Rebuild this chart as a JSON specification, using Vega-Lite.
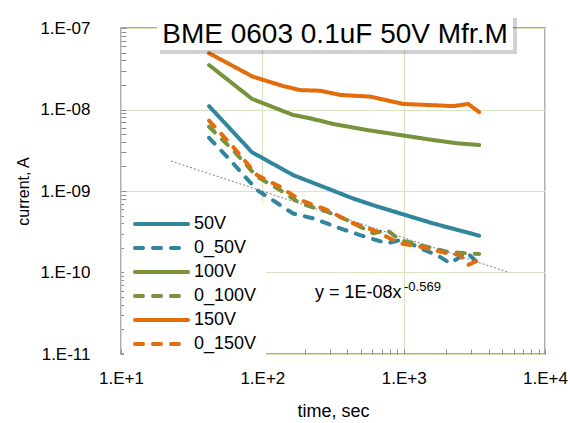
{
  "$schema": "https://vega.github.io/schema/vega-lite/v6.json",
  "width": 424,
  "height": 326,
  "autosize": "none",
  "padding": {"left": 121, "top": 28, "right": 25, "bottom": 69},
  "background": "white",
  "config": {
    "view": {"stroke": "#8c8c8c", "strokeWidth": 1.5},
    "font": "Liberation Sans",
    "axis": {
      "labelFont": "Liberation Sans",
      "titleFont": "Liberation Sans",
      "labelColor": "#000000",
      "titleColor": "#000000",
      "titleFontWeight": "normal",
      "labelOverlap": false,
      "labelFlush": false,
      "domain": false,
      "tickSize": -5,
      "tickColor": "#8c8c8c",
      "tickWidth": 1,
      "grid": true,
      "gridColor": "#d7e4bd",
      "gridWidth": 1.2,
      "gridOpacity": {"condition": {"test": "abs(log(datum.value)/LN10 - round(log(datum.value)/LN10)) < 0.01", "value": 1}, "value": 0}
    }
  },
  "datasets": {
    "series": [
      {"series": "50V", "t": 42, "i": 1.10e-8},
      {"series": "50V", "t": 84.5, "i": 2.99e-9},
      {"series": "50V", "t": 165, "i": 1.57e-9},
      {"series": "50V", "t": 287, "i": 1.08e-9},
      {"series": "50V", "t": 438, "i": 8.1e-10},
      {"series": "50V", "t": 607, "i": 6.7e-10},
      {"series": "50V", "t": 944, "i": 5.3e-10},
      {"series": "50V", "t": 1615, "i": 4.0e-10},
      {"series": "50V", "t": 3420, "i": 2.83e-10},
      {"series": "0_50V", "t": 42, "i": 4.5e-9},
      {"series": "0_50V", "t": 62, "i": 2.19e-9},
      {"series": "0_50V", "t": 91.6, "i": 1.03e-9},
      {"series": "0_50V", "t": 165, "i": 5.3e-10},
      {"series": "0_50V", "t": 228, "i": 4.62e-10},
      {"series": "0_50V", "t": 355, "i": 3.48e-10},
      {"series": "0_50V", "t": 491, "i": 2.88e-10},
      {"series": "0_50V", "t": 762, "i": 2.28e-10},
      {"series": "0_50V", "t": 990, "i": 2.55e-10},
      {"series": "0_50V", "t": 1306, "i": 1.98e-10},
      {"series": "0_50V", "t": 1722, "i": 1.64e-10},
      {"series": "0_50V", "t": 2128, "i": 1.30e-10},
      {"series": "0_50V", "t": 2810, "i": 1.75e-10},
      {"series": "0_50V", "t": 3420, "i": 1.27e-10},
      {"series": "100V", "t": 42, "i": 3.51e-8},
      {"series": "100V", "t": 84.5, "i": 1.35e-8},
      {"series": "100V", "t": 165, "i": 8.57e-9},
      {"series": "100V", "t": 218, "i": 7.80e-9},
      {"series": "100V", "t": 317, "i": 6.64e-9},
      {"series": "100V", "t": 551, "i": 5.60e-9},
      {"series": "100V", "t": 944, "i": 4.86e-9},
      {"series": "100V", "t": 1615, "i": 4.22e-9},
      {"series": "100V", "t": 2390, "i": 3.85e-9},
      {"series": "100V", "t": 3420, "i": 3.67e-9},
      {"series": "0_100V", "t": 42, "i": 6.15e-9},
      {"series": "0_100V", "t": 62, "i": 3.18e-9},
      {"series": "0_100V", "t": 91.6, "i": 1.50e-9},
      {"series": "0_100V", "t": 133, "i": 1.03e-9},
      {"series": "0_100V", "t": 185, "i": 7.06e-10},
      {"series": "0_100V", "t": 287, "i": 5.57e-10},
      {"series": "0_100V", "t": 397, "i": 4.41e-10},
      {"series": "0_100V", "t": 607, "i": 3.03e-10},
      {"series": "0_100V", "t": 762, "i": 3.32e-10},
      {"series": "0_100V", "t": 944, "i": 2.50e-10},
      {"series": "0_100V", "t": 1306, "i": 2.17e-10},
      {"series": "0_100V", "t": 2030, "i": 1.80e-10},
      {"series": "0_100V", "t": 2810, "i": 1.72e-10},
      {"series": "0_100V", "t": 3420, "i": 1.69e-10},
      {"series": "150V", "t": 42, "i": 4.9e-8},
      {"series": "150V", "t": 86, "i": 2.52e-8},
      {"series": "150V", "t": 140, "i": 1.94e-8},
      {"series": "150V", "t": 185, "i": 1.73e-8},
      {"series": "150V", "t": 256, "i": 1.70e-8},
      {"series": "150V", "t": 355, "i": 1.51e-8},
      {"series": "150V", "t": 578, "i": 1.44e-8},
      {"series": "150V", "t": 990, "i": 1.17e-8},
      {"series": "150V", "t": 1615, "i": 1.13e-8},
      {"series": "150V", "t": 2240, "i": 1.10e-8},
      {"series": "150V", "t": 2860, "i": 1.17e-8},
      {"series": "150V", "t": 3420, "i": 9.3e-9},
      {"series": "0_150V", "t": 42, "i": 7.3e-9},
      {"series": "0_150V", "t": 62, "i": 3.5e-9},
      {"series": "0_150V", "t": 91.6, "i": 1.57e-9},
      {"series": "0_150V", "t": 133, "i": 1.13e-9},
      {"series": "0_150V", "t": 185, "i": 7.76e-10},
      {"series": "0_150V", "t": 287, "i": 5.85e-10},
      {"series": "0_150V", "t": 438, "i": 4.02e-10},
      {"series": "0_150V", "t": 607, "i": 3.32e-10},
      {"series": "0_150V", "t": 944, "i": 2.28e-10},
      {"series": "0_150V", "t": 1306, "i": 2.07e-10},
      {"series": "0_150V", "t": 2030, "i": 1.72e-10},
      {"series": "0_150V", "t": 2505, "i": 1.64e-10},
      {"series": "0_150V", "t": 2860, "i": 1.24e-10},
      {"series": "0_150V", "t": 3420, "i": 1.42e-10}
    ],
    "trend": [
      {"t": 22.6, "i": 2.33e-9},
      {"t": 5480, "i": 1.01e-10}
    ]
  },
  "layer": [
    {
      "data": {"name": "series"},
      "mark": {"type": "line", "strokeWidth": 4, "strokeCap": "round", "strokeJoin": "round"},
      "encoding": {
        "x": {
          "field": "t", "type": "quantitative",
          "scale": {"type": "log", "domain": [10, 10000], "nice": false},
          "axis": {
            "title": "time, sec",
            "titleFontSize": 18,
            "labelFontSize": 17,
            "labelPadding": 21,
            "titlePadding": 16,
            "values": [10, 20, 30, 40, 50, 60, 70, 80, 90, 100, 200, 300, 400, 500, 600, 700, 800, 900, 1000, 2000, 3000, 4000, 5000, 6000, 7000, 8000, 9000, 10000],
            "labelExpr": "abs(log(datum.value)/LN10 - round(log(datum.value)/LN10)) < 0.01 ? '1.E+' + round(log(datum.value)/LN10) : ''"
          }
        },
        "y": {
          "field": "i", "type": "quantitative",
          "scale": {"type": "log", "domain": [1e-11, 1e-7], "nice": false},
          "axis": {
            "title": "current, A",
            "titleFontSize": 16,
            "labelFontSize": 17,
            "labelPadding": 36,
            "titlePadding": 8,
            "values": [1e-11, 2e-11, 3e-11, 4e-11, 5e-11, 6e-11, 7e-11, 8e-11, 9e-11, 1e-10, 2e-10, 3e-10, 4e-10, 5e-10, 6e-10, 7e-10, 8e-10, 9e-10, 1e-9, 2e-9, 3e-9, 4e-9, 5e-9, 6e-9, 7e-9, 8e-9, 9e-9, 1e-8, 2e-8, 3e-8, 4e-8, 5e-8, 6e-8, 7e-8, 8e-8, 9e-8, 1e-7],
            "labelExpr": "abs(log(datum.value)/LN10 - round(log(datum.value)/LN10)) < 0.01 ? '1.E-' + (round(-log(datum.value)/LN10) < 10 ? '0' : '') + round(-log(datum.value)/LN10) : ''"
          }
        },
        "color": {
          "field": "series", "type": "nominal",
          "scale": {
            "domain": ["50V", "0_50V", "100V", "0_100V", "150V", "0_150V"],
            "range": ["#31859c", "#31859c", "#77933c", "#77933c", "#e46c0a", "#e46c0a"]
          },
          "legend": {
            "title": null,
            "orient": "none",
            "legendX": 3,
            "legendY": 175,
            "fillColor": "white",
            "padding": 9,
            "symbolType": "M-1,0H4.3",
            "symbolSize": 400,
            "symbolStrokeWidth": 4,
            "labelFontSize": 18,
            "labelFont": "Liberation Sans",
            "labelColor": "#000000",
            "labelOffset": 37,
            "rowPadding": 3,
            "encode": {"symbols": {"update": {"strokeCap": {"value": "round"}}}}
          }
        },
        "strokeDash": {
          "field": "series", "type": "nominal",
          "scale": {
            "domain": ["50V", "0_50V", "100V", "0_100V", "150V", "0_150V"],
            "range": [[1, 0], [8, 10], [1, 0], [8, 10], [1, 0], [8, 10]]
          },
          "legend": null
        }
      }
    },
    {
      "data": {"name": "trend"},
      "mark": {"type": "line", "strokeWidth": 1, "color": "#808080", "strokeDash": [2, 2]},
      "encoding": {
        "x": {"field": "t", "type": "quantitative"},
        "y": {"field": "i", "type": "quantitative"}
      }
    },
    {
      "data": {"values": [{}]},
      "mark": {"type": "text", "fontSize": 18, "align": "left", "baseline": "alphabetic", "color": "#000000", "font": "Liberation Sans"},
      "encoding": {
        "x": {"datum": 235.9, "type": "quantitative"},
        "y": {"datum": 4.87e-11, "type": "quantitative"},
        "text": {"value": "y = 1E-08x"}
      }
    },
    {
      "data": {"values": [{}]},
      "mark": {"type": "text", "fontSize": 13, "align": "left", "baseline": "alphabetic", "color": "#000000", "font": "Liberation Sans"},
      "encoding": {
        "x": {"datum": 1005.6, "type": "quantitative"},
        "y": {"datum": 5.98e-11, "type": "quantitative"},
        "text": {"value": "-0.569"}
      }
    },
    {
      "data": {"values": [{}]},
      "mark": {"type": "rect", "color": "#000000", "opacity": 0.18},
      "encoding": {
        "x": {"datum": 18.88, "type": "quantitative"},
        "x2": {"datum": 6339},
        "y": {"datum": 1.327e-7, "type": "quantitative"},
        "y2": {"datum": 4.80e-8}
      }
    },
    {
      "data": {"values": [{}]},
      "mark": {"type": "rect", "color": "#ffffff", "opacity": 1},
      "encoding": {
        "x": {"datum": 17.98, "type": "quantitative"},
        "x2": {"datum": 5938},
        "y": {"datum": 1.444e-7, "type": "quantitative"},
        "y2": {"datum": 5.37e-8}
      }
    },
    {
      "data": {"values": [{}]},
      "mark": {"type": "text", "fontSize": 28, "align": "center", "baseline": "alphabetic", "color": "#000000", "font": "Liberation Sans"},
      "encoding": {
        "x": {"datum": 326.8, "type": "quantitative"},
        "y": {"datum": 6.49e-8, "type": "quantitative"},
        "text": {"value": "BME 0603 0.1uF 50V Mfr.M"}
      }
    }
  ]
}
